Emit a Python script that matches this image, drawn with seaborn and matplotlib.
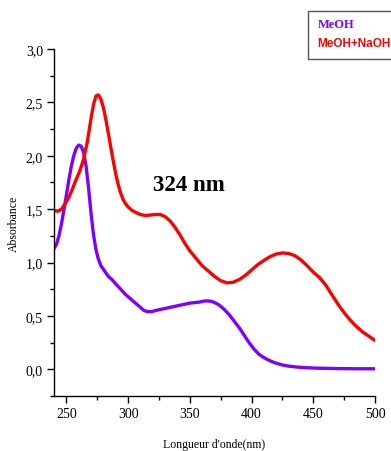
import numpy as np
import pandas as pd
import matplotlib
matplotlib.use("Agg")
import matplotlib.pyplot as plt
from matplotlib.patches import Rectangle
from matplotlib.ticker import MultipleLocator, FuncFormatter
import seaborn as sns

# UV-Vis spectra (wavelength in nm, absorbance)
wl_meoh = [240, 242, 244, 246, 248, 250, 252, 254, 256, 258, 260, 262, 264, 266,
           268, 270, 272, 274, 276, 278, 281, 284, 287, 290, 294, 298, 302, 306,
           310, 313, 316, 319, 322, 326, 330, 334, 338, 342, 346, 350, 354, 358,
           362, 365, 368, 371, 374, 378, 382, 386, 390, 394, 398, 402, 406, 410,
           414, 418, 422, 426, 430, 436, 444, 455, 470, 485, 500]
abs_meoh = [1.13, 1.17, 1.25, 1.36, 1.49, 1.63, 1.77, 1.90, 2.00, 2.07, 2.10, 2.09,
            2.03, 1.90, 1.70, 1.46, 1.26, 1.12, 1.03, 0.97, 0.92, 0.87, 0.84, 0.80,
            0.75, 0.70, 0.66, 0.62, 0.58, 0.55, 0.54, 0.54, 0.55, 0.56, 0.57, 0.58,
            0.59, 0.60, 0.61, 0.62, 0.625, 0.63, 0.64, 0.64, 0.635, 0.62, 0.60,
            0.56, 0.51, 0.45, 0.39, 0.32, 0.25, 0.19, 0.14, 0.11, 0.085, 0.065,
            0.05, 0.038, 0.03, 0.022, 0.015, 0.01, 0.007, 0.005, 0.005]

wl_naoh = [240, 243, 246, 249, 252, 255, 258, 261, 264, 267, 270, 272, 274, 276,
           278, 280, 282, 284, 286, 288, 290, 292, 294, 296, 298, 300, 303, 306,
           310, 314, 318, 322, 326, 330, 334, 338, 342, 346, 350, 355, 360, 365,
           370, 375, 380, 385, 390, 395, 400, 405, 410, 415, 420, 425, 430, 435,
           440, 445, 450, 455, 460, 465, 470, 475, 480, 485, 490, 495, 500]
abs_naoh = [1.49, 1.48, 1.50, 1.55, 1.61, 1.69, 1.78, 1.86, 1.97, 2.13, 2.35, 2.48,
            2.56, 2.57, 2.53, 2.45, 2.34, 2.21, 2.08, 1.95, 1.83, 1.73, 1.65, 1.59,
            1.55, 1.52, 1.49, 1.47, 1.45, 1.44, 1.445, 1.45, 1.45, 1.43, 1.39, 1.33,
            1.26, 1.18, 1.11, 1.04, 0.97, 0.92, 0.87, 0.83, 0.81, 0.815, 0.84,
            0.88, 0.93, 0.98, 1.02, 1.055, 1.08, 1.09, 1.085, 1.065, 1.025, 0.97,
            0.91, 0.86, 0.79, 0.70, 0.61, 0.53, 0.46, 0.40, 0.35, 0.31, 0.27]

series_names = ["MeOH", "MeOH+NaOH"]
series_colors = ["#7f00ff", "#ff0000"]
peak_label = "324 nm"

df = pd.concat([
    pd.DataFrame({"wl": wl_meoh, "A": abs_meoh, "s": series_names[0]}),
    pd.DataFrame({"wl": wl_naoh, "A": abs_naoh, "s": series_names[1]}),
])

sns.set_style("white")
plt.rcParams["font.family"] = ["Liberation Serif", "DejaVu Serif"]
plt.rcParams["text.color"] = "black"
plt.rcParams["axes.labelcolor"] = "black"
plt.rcParams["xtick.color"] = "black"
plt.rcParams["ytick.color"] = "black"

fig = plt.figure(figsize=(3.91, 4.52), dpi=100)
ax = fig.add_axes([54 / 391, 55 / 452, 321 / 391, 347 / 452])

sns.lineplot(data=df, x="wl", y="A", hue="s", palette=series_colors,
             hue_order=series_names, linewidth=2.4, legend=False, ax=ax,
             sort=False)
for ln in ax.lines:
    ln.set_solid_joinstyle("round")
    ln.set_solid_capstyle("round")

ax.set_xlim(240, 500)
ax.set_ylim(-0.25, 3.0)
ax.xaxis.set_major_locator(MultipleLocator(50))
ax.xaxis.set_minor_locator(MultipleLocator(25))
ax.yaxis.set_major_locator(MultipleLocator(0.5))
ax.yaxis.set_minor_locator(MultipleLocator(0.25))
ax.yaxis.set_major_formatter(FuncFormatter(lambda v, p: f"{v:.1f}".replace(".", ",")))

for side in ["top", "right"]:
    ax.spines[side].set_visible(False)
for side in ["left", "bottom"]:
    ax.spines[side].set_color("black")
    ax.spines[side].set_linewidth(1.0)

ax.tick_params(which="major", direction="out", length=5, width=1, color="black",
               labelsize=10, pad=3, left=True, bottom=True)
ax.tick_params(which="minor", direction="out", length=3, width=1, color="black",
               left=True, bottom=True)

ax.set_xlabel("Longueur d'onde(nm)", fontsize=8.5, labelpad=13)
ax.set_ylabel("Absorbance", fontsize=8.5, labelpad=4)

ax.text(349, 1.73, peak_label, fontsize=16.5, fontweight="bold",
        ha="center", va="center", color="black")

# legend box in the upper right corner
fig.patches.append(Rectangle((308 / 391, 1 - 60 / 452), 0.3, 48 / 452,
                             transform=fig.transFigure, facecolor="white",
                             edgecolor="#555555", linewidth=1.0))
fig.text(318 / 391, 1 - 25 / 452, series_names[0], color=series_colors[0],
         fontsize=9, fontweight="bold", va="center", ha="left")
fig.text(317 / 391, 1 - 44 / 452, series_names[1], color=series_colors[1],
         fontsize=8.5, fontweight="bold", va="center", ha="left",
         family=["Liberation Sans", "DejaVu Sans"])

fig.savefig("out.png", dpi=100)
